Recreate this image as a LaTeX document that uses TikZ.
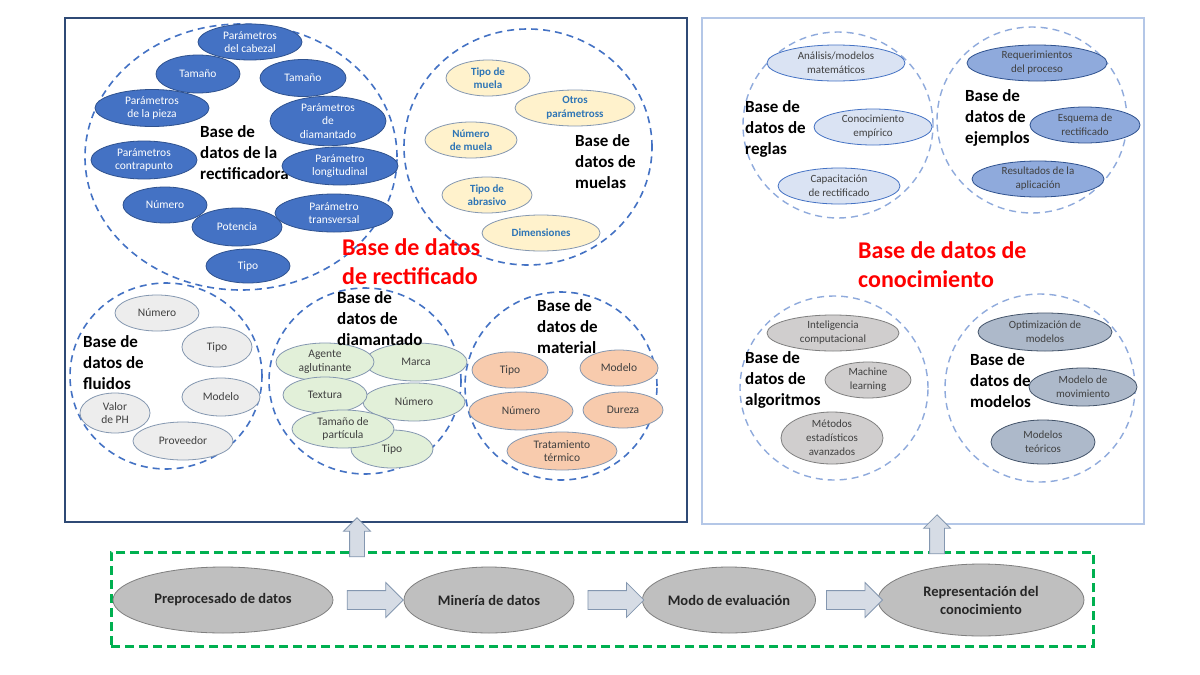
\documentclass[tikz,border=0pt]{standalone}
\usepackage{fontspec}
\setmainfont{Carlito}
\usetikzlibrary{shapes.geometric,shapes.arrows,calc}
\definecolor{cblue}{HTML}{4472C4}
\definecolor{lblue}{HTML}{8FAADC}
\definecolor{tred}{HTML}{FF0000}
\definecolor{dblue}{HTML}{4472C4}
\definecolor{dbb}{HTML}{2F528F}
\definecolor{yel}{HTML}{FFF2CC}
\definecolor{mtxt}{HTML}{2E75B6}
\definecolor{gbd}{HTML}{8497B0}
\definecolor{fluf}{HTML}{EDEDED}
\definecolor{grn}{HTML}{E2F0D9}
\definecolor{sal}{HTML}{F8CBAD}
\definecolor{rf}{HTML}{DAE3F3}
\definecolor{ef}{HTML}{8FAADC}
\definecolor{af}{HTML}{D0CECE}
\definecolor{abd}{HTML}{7F7F7F}
\definecolor{mf}{HTML}{ADB9CA}
\definecolor{mbd}{HTML}{44546A}
\definecolor{botf}{HTML}{BFBFBF}
\definecolor{arrf}{HTML}{D6DCE5}
\definecolor{gdash}{HTML}{00B050}
\definecolor{boxl}{HTML}{2F4A75}
\definecolor{boxr}{HTML}{B4C7E7}
\definecolor{txt}{HTML}{404040}
\begin{document}
\begin{tikzpicture}[x=1pt,y=-1pt,
 el/.style={ellipse, draw, inner sep=0pt, align=center, line width=0.8pt, font=\fontsize{11.5}{13.5}\selectfont, text=txt},
 elr/.style={el, font=\fontsize{11}{14}\selectfont},
 eR/.style={el, fill=dblue, draw=dbb, text=white},
 eM/.style={el, fill=yel, draw=gbd, text=mtxt, font=\fontsize{11}{13.5}\selectfont\bfseries},
 eF/.style={el, fill=fluf, draw=gbd},
 eD/.style={el, fill=grn, draw=gbd},
 eT/.style={el, fill=sal, draw=gbd},
 eRe/.style={elr, fill=rf, draw=cblue},
 eE/.style={elr, fill=ef, draw=dbb},
 eA/.style={elr, fill=af, draw=abd},
 eMo/.style={elr, fill=mf, draw=mbd},
 dc/.style={ellipse, draw=cblue, dash pattern=on 7pt off 5pt, line width=1.6pt, inner sep=0pt},
 dcl/.style={ellipse, draw=lblue, dash pattern=on 7pt off 5pt, line width=1.4pt, inner sep=0pt},
 lab/.style={anchor=west, align=left, inner sep=0pt, font=\fontsize{17}{21}\selectfont\bfseries},
 ttl/.style={anchor=west, align=left, inner sep=0pt, text=tred, font=\fontsize{24}{29}\selectfont\bfseries},
 blk/.style={single arrow, draw=gbd, fill=arrf, line width=0.8pt, inner xsep=0pt, inner ysep=9pt, single arrow head extend=8pt, minimum height=56pt},
 upa/.style={single arrow, draw=gbd, fill=arrf, line width=0.8pt, inner xsep=0pt, inner ysep=7pt, rotate=90, single arrow head extend=6pt, minimum height=39pt},
 bot/.style={ellipse, draw=abd, fill=botf, line width=0.8pt, inner sep=0pt, align=center, font=\fontsize{14.5}{18}\selectfont\bfseries, text=black!85},
 frame/.style={draw, anchor=north west, inner sep=0pt}
]
\useasboundingbox (0,0) rectangle (1200,675);
\fill[white] (0,0) rectangle (1200,675);

% frames
\node[frame, draw=boxl, line width=1.5pt, minimum width=622, minimum height=504] (boxL) at (64,17) {};
\node[frame, draw=boxr, line width=2pt, minimum width=442, minimum height=506] (boxR) at (701,17) {};

% ---- rectificadora
\node[dc, minimum width=312, minimum height=266] (cR) at (241,157) {};
\node[lab] (lR) at (200,153) {Base de\\datos de la\\rectificadora};
\node[eR, minimum width=104, minimum height=36] (e1) at (250,42) {Parámetros\\del cabezal};
\node[eR, minimum width=84, minimum height=38] (e2) at (198,74) {Tamaño};
\node[eR, minimum width=86, minimum height=37] (e3) at (303,78) {Tamaño};
\node[eR, minimum width=114, minimum height=37] (e4) at (152,108) {Parámetros\\de la pieza};
\node[eR, minimum width=116, minimum height=38] (e5) at (328,121) {Parámetros\\de\\diamantado};
\node[eR, minimum width=106, minimum height=38] (e6) at (144,160) {Parámetros\\contrapunto};
\node[eR, minimum width=116, minimum height=38] (e7) at (340,166) {Parámetro\\longitudinal};
\node[eR, minimum width=84, minimum height=36] (e8) at (165,205) {Número};
\node[eR, minimum width=90, minimum height=38] (e9) at (237,227) {Potencia};
\node[eR, minimum width=118, minimum height=38] (e10) at (334,213) {Parámetro\\transversal};
\node[eR, minimum width=84, minimum height=34] (e11) at (248,266) {Tipo};

% ---- muelas
\node[dc, minimum width=248, minimum height=236] (cM) at (528,147) {};
\node[eM, minimum width=84, minimum height=36] (m1) at (488,78) {Tipo de\\muela};
\node[eM, minimum width=120, minimum height=36] (m2) at (575,108) {Otros\\parámetross};
\node[eM, minimum width=92, minimum height=36] (m3) at (471,140) {Número\\de muela};
\node[eM, minimum width=90, minimum height=36] (m4) at (487,195) {Tipo de\\abrasivo};
\node[eM, minimum width=118, minimum height=36] (m5) at (541,233) {Dimensiones};
\node[lab] (lM) at (575,162) {Base de\\datos de\\muelas};

% ---- fluidos
\node[dc, minimum width=192, minimum height=186] (cF) at (166,376) {};
\node[eF, minimum width=84, minimum height=36] (f1) at (157,313) {Número};
\node[eF, minimum width=70, minimum height=40] (f2) at (217,347) {Tipo};
\node[eF, minimum width=78, minimum height=38] (f3) at (221,397) {Modelo};
\node[eF, minimum width=70, minimum height=40] (f4) at (115,413) {Valor\\de PH};
\node[eF, minimum width=100, minimum height=38] (f5) at (183,441) {Proveedor};
\node[lab] (lF) at (83,363) {Base de\\datos de\\fluidos};

% ---- diamantado
\node[dc, minimum width=192, minimum height=186] (cD) at (365,381) {};
\node[eD, minimum width=82, minimum height=38] (d6) at (392,449) {Tipo};
\node[eD, minimum width=102, minimum height=38] (d2) at (416,362) {Marca};
\node[eD, minimum width=98, minimum height=38] (d1) at (325,362) {Agente\\aglutinante};
\node[eD, minimum width=102, minimum height=38] (d4) at (414,402) {Número};
\node[eD, minimum width=84, minimum height=36] (d3) at (325,395) {Textura};
\node[eD, minimum width=102, minimum height=38] (d5) at (343,429) {Tamaño de\\partícula};
\node[lab] (lD) at (337,319) {Base de\\datos de\\diamantado};

% ---- material
\node[dc, minimum width=192, minimum height=188] (cMa) at (561,386) {};
\node[eT, minimum width=76, minimum height=36] (t1) at (510,370) {Tipo};
\node[eT, minimum width=78, minimum height=36] (t2) at (619,368) {Modelo};
\node[eT, minimum width=104, minimum height=38] (t3) at (521,411) {Número};
\node[eT, minimum width=80, minimum height=36] (t4) at (623,410) {Dureza};
\node[eT, minimum width=110, minimum height=38] (t5) at (562,451) {Tratamiento\\térmico};
\node[lab] (lMa) at (537,327) {Base de\\datos de\\material};

\node[ttl] (tR) at (342,262) {Base de datos\\de rectificado};

% ---- reglas
\node[dcl, minimum width=190, minimum height=186] (cRe) at (838,125) {};
\node[lab] (lRe) at (745,129) {Base de\\datos de\\reglas};
\node[eRe, minimum width=138, minimum height=36] (r1) at (836,63) {Análisis/modelos\\matemáticos};
\node[eRe, minimum width=118, minimum height=36] (r2) at (873,127) {Conocimiento\\empírico};
\node[eRe, minimum width=122, minimum height=36] (r3) at (839,186) {Capacitación\\de rectificado};

% ---- ejemplos
\node[dcl, minimum width=190, minimum height=186] (cE) at (1032,120) {};
\node[lab] (lE) at (965,118) {Base de\\datos de\\ejemplos};
\node[eE, minimum width=140, minimum height=36] (x1) at (1037,63) {Requerimientos\\del proceso};
\node[eE, minimum width=110, minimum height=36] (x2) at (1085,125) {Esquema de\\rectificado};
\node[eE, minimum width=132, minimum height=36] (x3) at (1038,179) {Resultados de la\\aplicación};

% ---- algoritmos
\node[dcl, minimum width=188, minimum height=184] (cA) at (834,388) {};
\node[lab] (lA) at (745,380) {Base de\\datos de\\algoritmos};
\node[eA, minimum width=132, minimum height=36] (g1) at (833,333) {Inteligencia\\computacional};
\node[eA, minimum width=86, minimum height=36] (g2) at (868,380) {Machine\\learning};
\node[eA, minimum width=102, minimum height=52] (g3) at (832,438) {Métodos\\estadísticos\\avanzados};

% ---- modelos
\node[dcl, minimum width=190, minimum height=188] (cMo) at (1040,388) {};
\node[lab] (lMo) at (970,381) {Base de\\datos de\\modelos};
\node[eMo, minimum width=134, minimum height=38] (o1) at (1045,332) {Optimización de\\modelos};
\node[eMo, minimum width=108, minimum height=38] (o2) at (1083,387) {Modelo de\\movimiento};
\node[eMo, minimum width=104, minimum height=44] (o3) at (1043,442) {Modelos\\teóricos};

\node[ttl] (tC) at (858,265) {Base de datos de\\conocimiento};

% ---- bottom process
\node[frame, draw=gdash, line width=2.5pt, dash pattern=on 9pt off 5pt, minimum width=982, minimum height=94] (gbox) at (110,551) {};
\node[bot, minimum width=220, minimum height=66] (b1) at (223,600) {Preprocesado de datos};
\node[bot, minimum width=170, minimum height=66] (b2) at (489,600) {Minería de datos};
\node[bot, minimum width=168, minimum height=66] (b3) at (729,600) {Modo de evaluación};
\node[bot, minimum width=206, minimum height=72] (b4) at (981,600) {Representación del\\conocimiento};
\node[blk] (a1) at ($(b1.east)!0.5!(b2.west)+(2,0)$) {};
\node[blk] (a2) at ($(b2.east)!0.5!(b3.west)+(3,0)$) {};
\node[blk] (a3) at ($(b3.east)!0.5!(b4.west)+(3,0)$) {};
\node[upa] (u1) at (357,541) {};
\node[upa] (u2) at (937,538) {};
\end{tikzpicture}
\end{document}
